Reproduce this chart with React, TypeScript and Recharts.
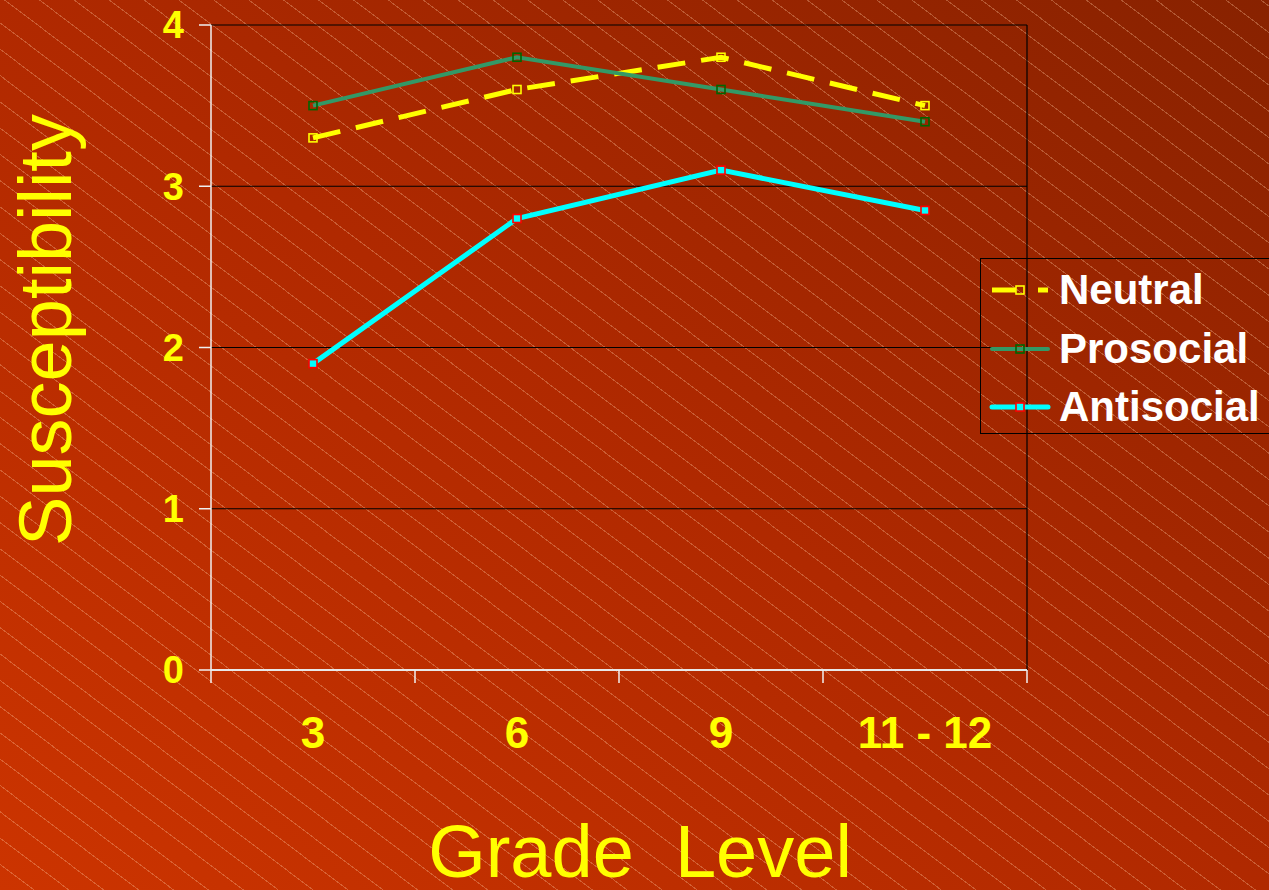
import React from 'react';
import { LineChart, Line, XAxis, YAxis, CartesianGrid, Legend, ReferenceLine } from 'recharts';

const grades = ['3', '6', '9', '11 - 12'];
const neutral = [3.3, 3.6, 3.8, 3.5];
const prosocial = [3.5, 3.8, 3.6, 3.4];
const antisocial = [1.9, 2.8, 3.1, 2.85];
const yTicks = [0, 1, 2, 3, 4];

const data = grades.map((g, i) => ({
  grade: g,
  Neutral: neutral[i],
  Prosocial: prosocial[i],
  Antisocial: antisocial[i],
}));

const FONT = '"Liberation Sans", Arial, Helvetica, sans-serif';

const seriesStyle: Record<string, { stroke: string; width: number; dash?: string; mStroke: string; mFill: string }> = {
  Neutral: { stroke: '#FFFF00', width: 5, dash: '28 16', mStroke: '#FFFF00', mFill: 'none' },
  Prosocial: { stroke: '#339966', width: 4, mStroke: '#006600', mFill: 'none' },
  Antisocial: { stroke: '#00FFFF', width: 5, mStroke: '#FF0000', mFill: '#00FFFF' },
};

const makeDot = (name: string) => (props: any) => {
  const { cx, cy, index } = props;
  const s = seriesStyle[name];
  if (cx == null || cy == null) return <g key={index} />;
  return (
    <rect key={`${name}-${index}`} x={cx - 4} y={cy - 4} width={8} height={8} fill={s.mFill} stroke={s.mStroke} strokeWidth={1.6} />
  );
};

const GradeTick = (props: any) => {
  const { x, y, payload, index, visibleTicksCount } = props;
  const half = payload && typeof payload.offset === 'number' ? payload.offset : 0;
  const isLast = index === (visibleTicksCount ?? grades.length) - 1;
  return (
    <g>
      <line x1={x - half} x2={x - half} y1={y} y2={y + 13} stroke="#F0F0F0" strokeWidth={1.5} />
      {isLast && <line x1={x + half} x2={x + half} y1={y} y2={y + 13} stroke="#F0F0F0" strokeWidth={1.5} />}
      <text
        x={x}
        y={y + 47}
        dy="0.71em"
        textAnchor="middle"
        fill="#FFFF00"
        fontSize={44}
        fontWeight="bold"
        fontFamily={FONT}
      >
        {payload.value}
      </text>
    </g>
  );
};

const renderLegend = (props: any) => {
  const { payload } = props;
  const order = ['Neutral', 'Prosocial', 'Antisocial'];
  const items = order.map((n) => (payload || []).find((p: any) => p.value === n)).filter(Boolean);
  return (
    <div
      style={{
        border: '1.5px solid #000',
        width: 320,
        height: 176,
        boxSizing: 'border-box',
        paddingTop: 2,
      }}
    >
      {items.map((p: any) => {
        const s = seriesStyle[p.value];
        return (
          <div key={p.value} style={{ display: 'flex', alignItems: 'center', height: 58.5 }}>
            <svg width={78} height={20} style={{ flex: 'none' }}>
              {p.value === 'Neutral' ? (
                <g>
                  <line x1={11} y1={10} x2={35} y2={10} stroke={s.stroke} strokeWidth={s.width} />
                  <line x1={57} y1={10} x2={67} y2={10} stroke={s.stroke} strokeWidth={s.width} />
                </g>
              ) : (
                <line x1={11} y1={10} x2={67} y2={10} stroke={s.stroke} strokeWidth={s.width} strokeLinecap="round" />
              )}
              <rect x={35} y={6} width={8} height={8} fill={s.mFill} stroke={s.mStroke} strokeWidth={1.6} />
            </svg>
            <span style={{ color: '#FFFFFF', fontFamily: FONT, fontWeight: 'bold', fontSize: 42, lineHeight: 1, whiteSpace: 'nowrap' }}>
              {p.value}
            </span>
          </div>
        );
      })}
    </div>
  );
};

export default function App() {
  return (
    <div
      style={{
        position: 'absolute',
        left: 0,
        top: 0,
        width: 1269,
        height: 890,
        overflow: 'hidden',
        backgroundColor: '#b02a00',
        backgroundImage:
          'repeating-linear-gradient(37deg, rgba(255,190,150,0) 0px, rgba(255,190,150,0) 20px, rgba(255,200,160,0.32) 20px, rgba(255,200,160,0.32) 21px), linear-gradient(to top right, #cc3400 0%, #b02900 50%, #882200 100%)',
        fontFamily: FONT,
      }}
    >
      <LineChart width={1269} height={890} data={data} margin={{ top: 25, right: 242, bottom: 219, left: 0 }}>
        <CartesianGrid horizontal={true} vertical={false} stroke="#000000" strokeWidth={1.2} />
        <XAxis
          dataKey="grade"
          scale="band"
          height={1}
          axisLine={{ stroke: '#E8E8E8', strokeWidth: 2 }}
          tickLine={false}
          tickSize={0}
          tickMargin={0}
          tick={<GradeTick />}
          interval={0}
        />
        <YAxis
          width={211}
          domain={[0, 4]}
          ticks={yTicks}
          interval={0}
          tickSize={12}
          tickMargin={15}
          axisLine={{ stroke: '#F0F0F0', strokeWidth: 1.5 }}
          tickLine={{ stroke: '#F0F0F0', strokeWidth: 1.5 }}
          tick={{ fill: '#FFFF00', fontSize: 38, fontWeight: 'bold', fontFamily: FONT }}
        />
        <ReferenceLine x={grades[grades.length - 1]} position="end" stroke="#000000" strokeWidth={1.2} />
        <Legend
          layout="vertical"
          align="center"
          verticalAlign="middle"
          content={renderLegend}
          wrapperStyle={{ position: 'absolute', left: 980, top: 258, width: 320, height: 176 }}
        />
        <Line
          type="linear"
          dataKey="Neutral"
          stroke={seriesStyle.Neutral.stroke}
          strokeWidth={seriesStyle.Neutral.width}
          strokeDasharray={seriesStyle.Neutral.dash}
          dot={makeDot('Neutral')}
          activeDot={false}
          isAnimationActive={false}
        />
        <Line
          type="linear"
          dataKey="Prosocial"
          stroke={seriesStyle.Prosocial.stroke}
          strokeWidth={seriesStyle.Prosocial.width}
          dot={makeDot('Prosocial')}
          activeDot={false}
          isAnimationActive={false}
        />
        <Line
          type="linear"
          dataKey="Antisocial"
          stroke={seriesStyle.Antisocial.stroke}
          strokeWidth={seriesStyle.Antisocial.width}
          dot={makeDot('Antisocial')}
          activeDot={false}
          isAnimationActive={false}
        />
      </LineChart>
      <div
        style={{
          position: 'absolute',
          left: 46,
          top: 330,
          transform: 'translate(-50%, -50%) rotate(-90deg)',
          color: '#FFFF00',
          fontSize: 74,
          lineHeight: 1,
          whiteSpace: 'nowrap',
          fontFamily: FONT,
        }}
      >
        Susceptibility
      </div>
      <div
        style={{
          position: 'absolute',
          left: 640,
          top: 852,
          transform: 'translate(-50%, -50%)',
          color: '#FFFF00',
          fontSize: 74,
          lineHeight: 1,
          whiteSpace: 'pre',
          fontFamily: FONT,
        }}
      >
        {'Grade  Level'}
      </div>
    </div>
  );
}
